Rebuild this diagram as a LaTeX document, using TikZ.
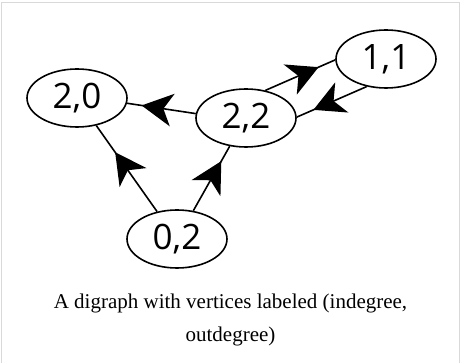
\documentclass[tikz,border=0pt]{standalone}
\usepackage{fontspec}
\setmainfont{Liberation Serif}
\newfontfamily\degfont{Open Sans}
\usetikzlibrary{arrows.meta,decorations.markings,shapes.geometric}

\begin{document}
\begin{tikzpicture}[x=1pt,y=-1pt,line width=1.6pt,
		vertex/.style={ellipse,draw,fill=white,minimum width=100pt,minimum height=58pt,inner sep=0pt,
			font=\degfont\fontsize{35}{35}\selectfont},
		midarrow/.style={postaction={decorate},decoration={markings,
				mark=at position 0.5 with {\pgftransformxshift{20pt}\arrow{Stealth[length=31pt,width=33pt,inset=9pt,line width=0pt]}}}}]
		\useasboundingbox (0,0) rectangle (461,363);
		\draw[line width=1.2pt,black!15] (1.5,363) -- (1.5,2.5) -- (459.5,2.5) -- (459.5,363);
		\node[vertex] (v20) at (77,98) {2,0};
		\node[vertex] (v22) at (246,118) {2,2};
		\node[vertex] (v11) at (386,59) {1,1};
		\node[vertex] (v02) at (177,239) {0,2};
		\draw[midarrow] (v22.175) -- (v20.-6);
		\draw[midarrow] (v02.126) -- (v20.-55);
		\draw[midarrow] (v02.60) -- (v22.240);
		\draw[midarrow] (v22.55) -- (v11.181);
		\draw[midarrow] (v11.235) -- (v22.1);
		%\draw[midarrow] (v22) -- (v11);
		\node[font=\fontsize{21}{33}\selectfont,align=center,anchor=base] (caption) at (230.5,342)
			{A digraph with vertices labeled (indegree,\\outdegree)};
	\end{tikzpicture}
\end{document}
